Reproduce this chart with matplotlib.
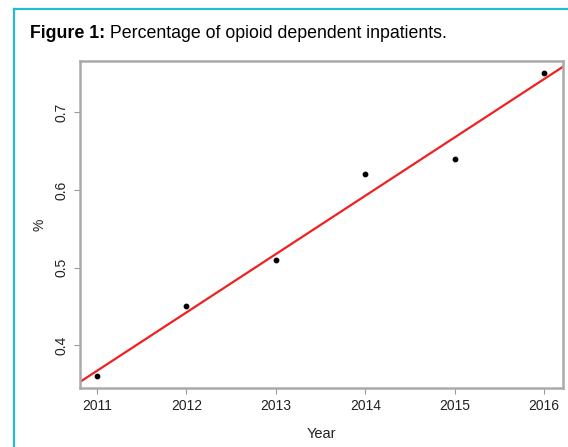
import numpy as np
import matplotlib
matplotlib.use("Agg")
import matplotlib.pyplot as plt
from matplotlib.lines import Line2D

plt.rcParams['font.family'] = ['Liberation Sans', 'DejaVu Sans']

# data
years = [2011, 2012, 2013, 2014, 2015, 2016]
pct = [0.36, 0.45, 0.51, 0.62, 0.64, 0.75]
yticks = [0.4, 0.5, 0.6, 0.7]

W, H = 568, 447
fig = plt.figure(figsize=(W / 100, H / 100), dpi=100)

# teal frame (top and left edges visible)
teal = '#27b9d3'
fig.add_artist(Line2D([14 / W, 1.0], [1 - 9 / H, 1 - 9 / H], color=teal, lw=1.6))
fig.add_artist(Line2D([14 / W, 14 / W], [0, 1 - 9 / H], color=teal, lw=1.6))

# title: bold label followed by plain text
t1 = fig.text(30 / W, 1 - 34 / H, 'Figure 1:', fontsize=12.8, fontweight='bold', va='center')
fig.add_artist(matplotlib.text.Annotation(' Percentage of opioid dependent inpatients.',
                                          xy=(1, 0.5), xycoords=t1, va='center', fontsize=12.8))

ax = fig.add_axes([80 / W, 1 - 388 / H, (563 - 80) / W, (388 - 61) / H])
ax.scatter(years, pct, s=10, color='black', zorder=3)

# least squares fit line
slope, icpt = np.polyfit(years, pct, 1)
xl = np.array([2010.81, 2016.21])
ax.plot(xl, slope * xl + icpt, color='#ee2222', lw=1.6)

ax.set_xlim(2010.81, 2016.21)
ax.set_ylim(0.345, 0.766)
ax.set_xticks(years)
ax.set_xticklabels([str(y) for y in years], fontsize=10, color='#222222')
ax.set_yticks(yticks)
ax.set_yticklabels([str(v) for v in yticks], fontsize=10, rotation=90, va='center', color='#222222')
ax.tick_params(length=4, color='#999999', width=0.8, pad=4)
for sp in ax.spines.values():
    sp.set_color('#aaaaaa')
    sp.set_linewidth(1.8)

ax.set_xlabel('Year', fontsize=10.5, color='#222222', labelpad=10)
ax.set_ylabel('%', fontsize=10, color='#222222', labelpad=6)

fig.savefig('out.png', dpi=100)
